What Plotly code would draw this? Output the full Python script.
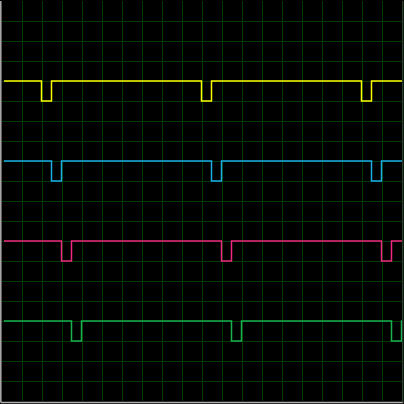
import plotly.graph_objects as go

# Signal edge times (in grid divisions) and levels
start_x = 0.1
end_x = 20.05

yellow_edges = [1.975, 2.475, 9.975, 10.475, 17.975, 18.475]
blue_edges = [2.475, 2.975, 10.475, 10.975, 18.475, 18.975]
pink_edges = [2.975, 3.475, 10.975, 11.475, 18.975, 19.475]
green_edges = [3.475, 3.975, 11.475, 11.975, 19.475, 19.975]

yellow_levels = [16.0, 15.0]
blue_levels = [12.0, 11.0]
pink_levels = [8.0, 7.0]
green_levels = [4.0, 3.0]

signals = [
    ("yellow", yellow_edges, yellow_levels, "#ffff00"),
    ("blue", blue_edges, blue_levels, "#19aee8"),
    ("pink", pink_edges, pink_levels, "#f0287f"),
    ("green", green_edges, green_levels, "#18b050"),
]

fig = go.Figure()
for name, edges, (hi, lo), color in signals:
    xs = [start_x] + edges + [end_x]
    ys = [hi]
    for i in range(len(edges)):
        ys.append(lo if i % 2 == 0 else hi)
    ys.append(ys[-1])
    fig.add_trace(go.Scatter(
        x=xs, y=ys, mode="lines", line=dict(color=color, width=1.5, shape="hv"),
        name=name, showlegend=False, hoverinfo="skip"))

axis_common = dict(
    showticklabels=False, ticks="", zeroline=False, showline=False,
    showgrid=True, gridcolor="#003a00", gridwidth=1, dtick=1, tick0=0,
)
fig.update_xaxes(range=[0, 20], **axis_common)
fig.update_yaxes(range=[0, 20], **axis_common)

# left and bottom light frame, right edge faint
fig.add_shape(type="line", xref="paper", yref="paper", x0=-0.003, y0=-0.004, x1=-0.003, y1=1,
              line=dict(color="#b0b0b0", width=1.5), layer="above")
fig.add_shape(type="line", xref="paper", yref="paper", x0=-0.003, y0=-0.004, x1=1.003, y1=-0.004,
              line=dict(color="#b0b0b0", width=1.5), layer="above")
fig.add_shape(type="line", xref="paper", yref="paper", x0=1.002, y0=-0.004, x1=1.002, y1=1,
              line=dict(color="#3a5a3a", width=1), layer="above")

fig.update_layout(
    width=404, height=404,
    margin=dict(l=2, r=2, t=1, b=3),
    paper_bgcolor="#000000",
    plot_bgcolor="#000000",
)

fig.write_html("out.html")
